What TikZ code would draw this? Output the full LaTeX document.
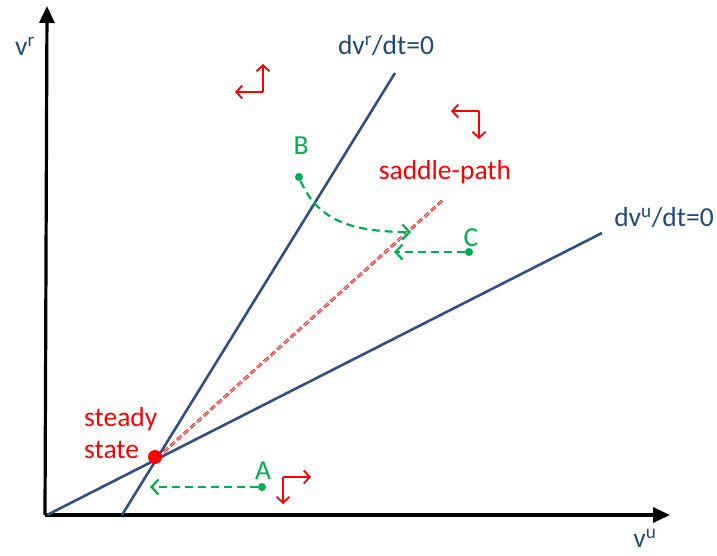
\documentclass[tikz,border=0pt]{standalone}
\usepackage{fontspec}
\setmainfont{Carlito}
\usetikzlibrary{arrows.meta}
\definecolor{lineblue}{HTML}{2F4F86}
\definecolor{textblue}{HTML}{1F497D}
\definecolor{mygreen}{HTML}{00B050}
\definecolor{myred}{HTML}{FF0000}
\tikzset{
  axis/.style={line width=3.2pt, black, -{Triangle[length=17pt,width=15pt]}},
  locus/.style={line width=2.6pt, lineblue},
  saddle/.style={draw=myred, line width=0.8pt, double=myred!30, double distance=1.1pt, dash pattern=on 6pt off 3pt},
  traj/.style={mygreen, line width=2.2pt, dash pattern=on 8pt off 5pt, -{Straight Barb[length=7pt,width=15pt,line width=2.2pt]}},
  dirarr/.style={myred, line width=1.8pt, -{Straight Barb[length=6pt,width=13pt,line width=1.8pt]}},
  lbl/.style={inner sep=0pt, font=\fontsize{27.5}{31}\selectfont},
  gdot/.style={circle, fill=mygreen, inner sep=0pt, minimum size=8pt},
}
\begin{document}
\begin{tikzpicture}[x=1pt, y=-1pt]
\useasboundingbox (0,0) rectangle (717,556);
% axes
\coordinate (O) at (45,515);
\coordinate (ytop) at (47,6);
\coordinate (xend) at (670,515);
\draw[axis] (O) -- (ytop);
\draw[axis] (45,515) coordinate (O2) -- (xend);
\node[lbl, textblue] (vr) at (25,46) {v\textsuperscript{r}};
\node[lbl, textblue] (vu) at (645,538) {v\textsuperscript{u}};
% loci
\coordinate (r1) at (122,515);
\coordinate (r2) at (395,73);
\coordinate (u1) at (47,515);
\coordinate (u2) at (602,233);
\draw[locus] (r1) -- (r2);
\draw[locus] (u1) -- (u2);
\node[lbl, textblue] (lr) at (386,46) {dv\textsuperscript{r}/dt=0};
\node[lbl, textblue] (lu) at (664,218) {dv\textsuperscript{u}/dt=0};
% saddle path
\coordinate (ss) at (157,458);
\coordinate (sp) at (443,200);
\draw[saddle] (ss) -- (sp);
\node[lbl, myred] (splbl) at (445,172) {saddle-path};
\node[circle, fill=myred, inner sep=0pt, minimum size=14pt] (ssdot) at (155,457) {};
\node[lbl, myred, align=left, anchor=west] (sslbl) at (84,433) {steady\\[1pt]state};
% trajectories
\node[gdot] (B) at (299,177) {};
\node[lbl, mygreen] (Blbl) at (301,146) {B};
\coordinate (Bend) at (411,232);
\draw[traj] (B) .. controls (318,222) and (355,232) .. (Bend);
\node[gdot] (C) at (469,252) {};
\node[lbl, mygreen] (Clbl) at (471,238) {C};
\coordinate (Cend) at (394,252);
\draw[traj] (C) -- (Cend);
\node[gdot] (A) at (262,487) {};
\node[lbl, mygreen] (Albl) at (263,471) {A};
\coordinate (Aend) at (150,487);
\draw[traj] (A) -- (Aend);
% direction arrows
\coordinate (d1) at (263,92);
\coordinate (d1u) at (263,64);
\coordinate (d1l) at (235,92);
\draw[dirarr] (d1) -- (d1u);
\draw[dirarr] (d1) -- (d1l);
\coordinate (d2) at (479,111);
\coordinate (d2l) at (451,111);
\coordinate (d2d) at (479,139);
\draw[dirarr] (d2) -- (d2l);
\draw[dirarr] (d2) -- (d2d);
\coordinate (d3) at (283,477);
\coordinate (d3r) at (311,477);
\coordinate (d3d) at (283,504);
\draw[dirarr] (d3) -- (d3r);
\draw[dirarr] (d3) -- (d3d);
\end{tikzpicture}
\end{document}
